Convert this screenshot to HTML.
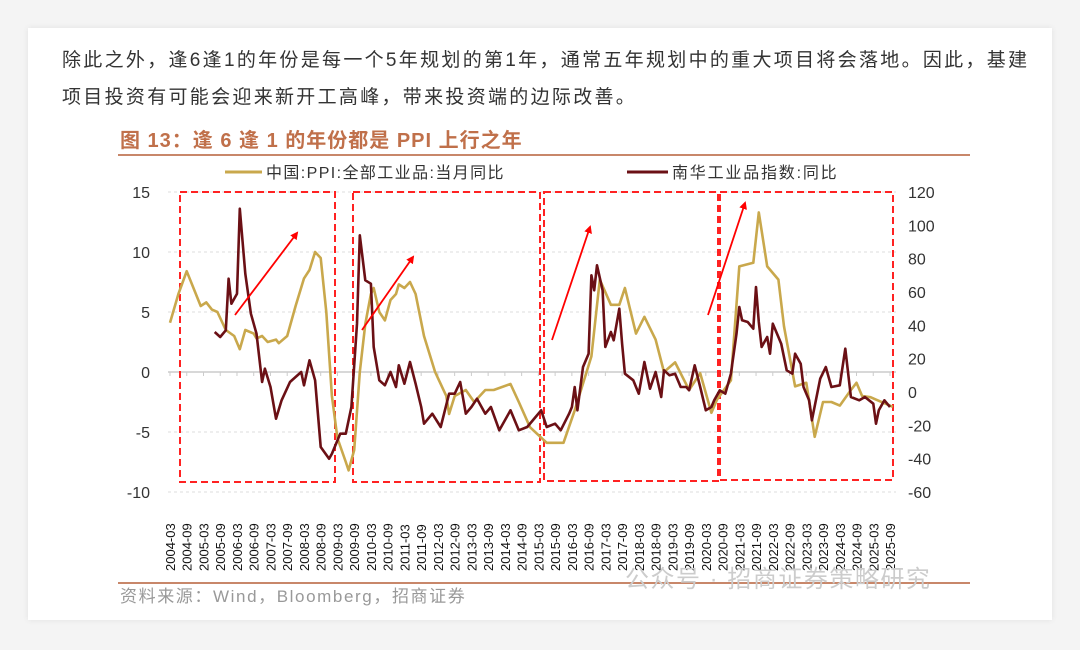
<!DOCTYPE html>
<html><head><meta charset="utf-8">
<style>
html,body{margin:0;padding:0;background:#f4f4f4;width:1080px;height:650px;overflow:hidden;font-family:"Liberation Sans","Noto Sans CJK SC",sans-serif;}
#card{position:absolute;left:28px;top:28px;width:1024px;height:592px;background:#fff;box-shadow:0 0 6px rgba(0,0,0,0.08);}
.para{position:absolute;left:34px;font-size:19px;letter-spacing:2.3px;color:#333;white-space:nowrap;}
svg{position:absolute;left:0;top:0;}
</style></head>
<body>
<div id="card">
<div class="para" style="top:17px">除此之外，逢6逢1的年份是每一个5年规划的第1年，通常五年规划中的重大项目将会落地。因此，基建</div>
<div class="para" style="top:54px">项目投资有可能会迎来新开工高峰，带来投资端的边际改善。</div>
</div>
<svg id="chart" width="1080" height="650"></svg>
<script>
const monthLabels=[];
for(let y=2004;y<=2025;y++){monthLabels.push(y+'-03');monthLabels.push(y+'-09');}
const leftTicks=[15,10,5,0,-5,-10];
const rightTicks=[120,100,80,60,40,20,0,-20,-40,-60];
// months since 2004-03
const ppiMonths=[0,3,6,11,13,15,17,20,23,25,27,30,31,33,35,38,39,42,45,48,50,52,54,56,58,60,63,64,66,68,70,72,73,75,77,79,81,82,84,86,88,91,95,99,100,102,106,109,113,116,122,125,129,135,141,145,151,154,158,161,163,167,170,174,177,181,186,190,194,196,201,204,209,211,214,218,220,224,228,231,234,237,240,244,246,248,251,254,259];
const ppiValues=[4.1,6.5,8.4,5.5,5.8,5.2,5.0,3.5,3.0,1.9,3.5,3.2,2.8,3.0,2.5,2.7,2.4,3.0,5.5,7.8,8.5,10.0,9.5,5.0,-2.0,-5.5,-7.5,-8.2,-6.5,0,4.0,6.5,7.0,5.0,4.3,6.0,6.5,7.3,7.0,7.5,6.5,3.0,0,-2.0,-3.5,-2.0,-1.5,-2.5,-1.5,-1.5,-1.0,-2.5,-4.6,-5.9,-5.9,-3.2,1.3,7.7,5.6,5.6,7.0,3.2,4.6,2.7,0,0.8,-1.5,-0.1,-3.4,-2.3,-0.7,8.8,9.1,13.3,8.8,7.7,3.8,-1.2,-0.9,-5.4,-2.5,-2.5,-2.8,-1.5,-0.9,-2.0,-2.1,-2.4,-2.9];
const nhMonths=[16,18,20,21,22,24,25,27,29,31,33,34,36,38,40,43,47,48,50,52,54,57,58,61,63,65,67,68,70,72,73,75,77,79,81,82,84,86,88,90,91,94,97,100,102,104,106,108,110,113,115,118,122,125,128,131,133,135,138,140,143,144,145,146,148,150,151,152,153,155,156,158,159,161,162,163,166,167,168,170,172,174,176,177,179,181,183,185,186,188,190,192,194,195,197,199,201,203,204,205,207,209,210,211,212,214,215,216,218,219,221,223,224,226,227,229,230,233,235,237,240,242,244,247,249,252,253,254,256,258];
const nhValues=[36,33,37,68,53,59,110,71,47,35,6,14,3,-16,-5,6,12,4,19,7,-33,-40,-37,-25,-25,-9,41,94,67,65,27,7,4,12,3,16,5,18,5,-9,-19,-13,-21,-1,-1,6,-13,-9,-4,-13,-9,-23,-11,-23,-21,-15,-11,-21,-19,-23,-13,-9,3,-11,15,23,70,61,76,61,27,36,31,50,29,11,7,3,-1,18,2,12,-3,13,10,11,3,3,1,16,3,-11,-9,-5,1,-1,11,35,51,43,42,38,63,42,27,33,23,41,33,29,13,11,23,17,3,-5,-17,8,15,3,4,26,-3,-5,-3,-7,-19,-11,-5,-9];

const svg=document.getElementById('chart');
const NS='http://www.w3.org/2000/svg';
function mk(tag,attrs,parent){const e=document.createElementNS(NS,tag);for(const k in attrs)e.setAttribute(k,attrs[k]);(parent||svg).appendChild(e);return e;}
const X0=170,XSTEP=720/258;
const xS=m=>X0+m*XSTEP;
const yL=v=>372-v*12;
const yR=v=>392-v*(300/180);

let t;
t=mk('text',{x:120,y:147,'font-size':20,'font-weight':'bold',fill:'#c0704a','letter-spacing':'1'});


t.textContent='图 13：逢 6 逢 1 的年份都是 PPI 上行之年';
let l=mk('line',{x1:118,y1:155,x2:970,y2:155,stroke:'#c8876a','stroke-width':2});



// legend
let g=mk('g',{});


mk('line',{x1:225,y1:172,x2:262,y2:172,stroke:'#c9a84c','stroke-width':3},g);
t=mk('text',{x:266,y:178,'font-size':16,fill:'#333','letter-spacing':'1.4'},g);t.textContent='中国:PPI:全部工业品:当月同比';
g=mk('g',{});


mk('line',{x1:627,y1:172,x2:668,y2:172,stroke:'#6b1015','stroke-width':3},g);
t=mk('text',{x:672,y:178,'font-size':16,fill:'#333','letter-spacing':'1.8'},g);t.textContent='南华工业品指数:同比';

// grid + left ticks
leftTicks.forEach(v=>{
  const y=yL(v);
  if(v!==0){const gl=mk('line',{x1:168,y1:y,x2:896,y2:y,stroke:'#ddd','stroke-width':1,'stroke-dasharray':'3,3'});
  
  }
  const tx=mk('text',{x:150,y:y+6,'font-size':16,'text-anchor':'end',fill:'#333'});
  
  
  tx.textContent=v;
});
rightTicks.forEach(v=>{
  const tx=mk('text',{x:908,y:yR(v)+6,'font-size':16,fill:'#333'});
  
  
  tx.textContent=v;
});
l=mk('line',{x1:168,y1:372,x2:896,y2:372,stroke:'#ccc','stroke-width':1.5});


monthLabels.forEach((s,i)=>{
  const x=xS(i*6);
  const tk=mk('line',{x1:x,y1:372,x2:x,y2:376,stroke:'#ccc','stroke-width':1});
  
  
  const tx=mk('text',{x:0,y:0,'font-size':13,fill:'#111',transform:`translate(${x+5},571) rotate(-90)`});
  
  
  tx.textContent=s;
});

// red boxes
[[180,192,335,482],[353,192,540,482],[544,192,718,481],[720,192,893,480]].forEach((b,i)=>{
  const r=mk('rect',{x:b[0],y:b[1],width:b[2]-b[0],height:b[3]-b[1],fill:'none',stroke:'#f22','stroke-width':2,'stroke-dasharray':'7,4'});
  
  
});

function line(ms,vs,ys,color,name){
  const d=ms.map((m,i)=>(i?'L':'M')+xS(m).toFixed(1)+','+ys(vs[i]).toFixed(1)).join('');
  const p=mk('path',{d:d,fill:'none',stroke:color,'stroke-width':2.6,'stroke-linejoin':'round'});
  
  
}
line(ppiMonths,ppiValues,yL,'#c9a84c','ppi-line');
line(nhMonths,nhValues,yR,'#6b1015','nanhua-line');

// arrows
const defs=mk('defs',{});
const mkr=mk('marker',{id:'ah',markerWidth:8,markerHeight:8,refX:6,refY:4,orient:'auto',markerUnits:'userSpaceOnUse'},defs);
mk('path',{d:'M0,0L8,4L0,8z',fill:'#f00'},mkr);
[[235,315,297,233],[362,330,413,257],[552,340,590,227],[708,315,745,203]].forEach(a=>{
  const ar=mk('line',{x1:a[0],y1:a[1],x2:a[2],y2:a[3],stroke:'#f00','stroke-width':1.8,'marker-end':'url(#ah)'});
  
  
});

l=mk('line',{x1:118,y1:583,x2:970,y2:583,stroke:'#c8876a','stroke-width':2});


t=mk('text',{x:120,y:602,'font-size':17,fill:'#999','letter-spacing':'1.6'});


t.textContent='资料来源：Wind，Bloomberg，招商证券';
t=mk('text',{x:625,y:587,'font-size':24,fill:'#ccc','letter-spacing':'1.5'});


t.textContent='公众号 · 招商证券策略研究';
</script>
</body></html>
